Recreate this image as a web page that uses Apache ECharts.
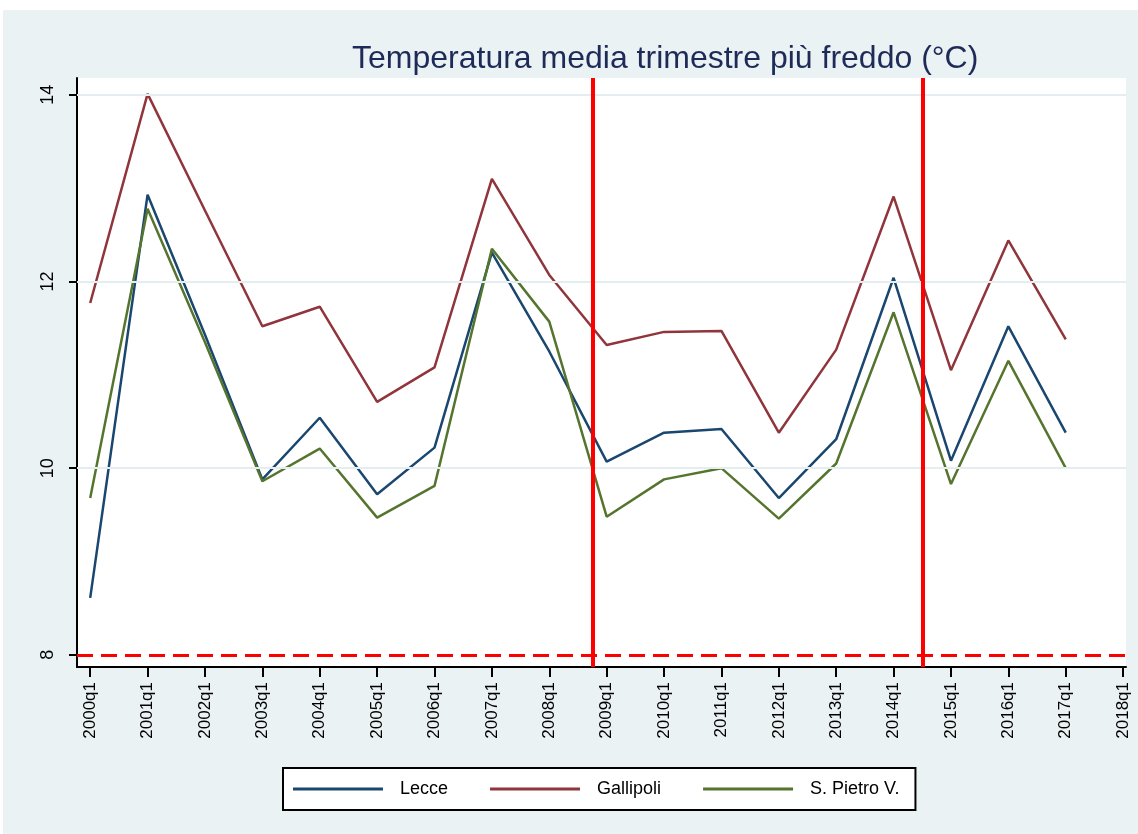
<!DOCTYPE html>
<html>
<head>
<meta charset="utf-8">
<script src="https://cdn.jsdelivr.net/npm/echarts@6/dist/echarts.min.js"></script>
<style>
  html, body { margin: 0; padding: 0; background: #fff; }
  #chart { width: 1138px; height: 834px; }
</style>
</head>
<body>
<div id="chart"></div>
<script>
// anni (valore al primo trimestre), asse x in anni dal 2000
var periods = [0, 1, 2, 3, 4, 5, 6, 7, 8, 9, 10, 11, 12, 13, 14, 15, 16, 17];
var xTicks = [0, 1, 2, 3, 4, 5, 6, 7, 8, 9, 10, 11, 12, 13, 14, 15, 16, 17, 18];
var yTicks = [8, 10, 12, 14];

var lecce = [8.61, 12.93, 11.43, 9.88, 10.54, 9.72, 10.22, 12.31, 11.25, 10.07, 10.38, 10.42, 9.68, 10.31, 12.04, 10.08, 11.52, 10.38];
var gallipoli = [11.77, 14.01, 12.76, 11.52, 11.73, 10.71, 11.08, 13.10, 12.07, 11.32, 11.46, 11.47, 10.38, 11.27, 12.91, 11.05, 12.44, 11.38];
var spietro = [9.68, 12.78, 11.35, 9.86, 10.21, 9.47, 9.81, 12.35, 11.57, 9.48, 9.88, 10.00, 9.46, 10.05, 11.67, 9.83, 11.15, 10.00];

// linee verticali: 2008q4 e 2014q3
var breaks = [8.75, 14.5];
var soglia = 8;
var gridY = [10, 12, 14];

function pairs(vals) {
  var out = [];
  for (var i = 0; i < vals.length; i++) {
    out.push([periods[i], vals[i]]);
  }
  return out;
}

var font = 'Liberation Sans, Arial, sans-serif';
var chart = echarts.init(document.getElementById('chart'));

chart.setOption({
  backgroundColor: '#ffffff',
  animation: false,
  graphic: [{
    type: 'rect',
    z: -100,
    shape: { x: 3, y: 10, width: 1135, height: 824 },
    style: { fill: '#eaf2f3' }
  }],
  title: {
    text: 'Temperatura media trimestre più freddo (°C)',
    left: 347,
    top: 38,
    textStyle: {
      color: '#1e2b58',
      fontFamily: font,
      fontWeight: 'normal',
      fontSize: 32
    }
  },
  grid: {
    left: 77,
    right: 12,
    top: 78,
    bottom: 167,
    show: true,
    backgroundColor: '#ffffff',
    borderWidth: 0
  },
  legend: {
    data: ['Lecce', 'Gallipoli', 'S. Pietro V.'],
    left: 283,
    top: 768,
    padding: [12, 16, 12, 10],
    itemGap: 42,
    itemWidth: 90,
    itemHeight: 3,
    icon: 'rect',
    backgroundColor: '#ffffff',
    borderColor: '#000000',
    borderWidth: 2,
    textStyle: {
      color: '#000',
      fontFamily: font,
      fontSize: 18,
      padding: [0, 0, 0, 12]
    }
  },
  xAxis: {
    type: 'value',
    min: -0.23,
    max: 18.05,
    splitLine: { show: false },
    axisLine: { onZero: false, lineStyle: { color: '#000', width: 2 } },
    axisTick: { customValues: xTicks, length: 10, lineStyle: { color: '#000', width: 2 } },
    axisLabel: {
      customValues: xTicks,
      rotate: 90,
      margin: 15,
      color: '#000',
      fontFamily: font,
      fontSize: 17,
      formatter: function (v) { return (2000 + Math.round(v)) + 'q1'; }
    }
  },
  yAxis: {
    type: 'value',
    min: 7.87,
    max: 14.18,
    splitLine: { show: false },
    axisLine: { show: true, onZero: false, lineStyle: { color: '#000', width: 2 } },
    axisTick: { show: true, customValues: yTicks, length: 8, lineStyle: { color: '#000', width: 2 } },
    axisLabel: {
      customValues: yTicks,
      rotate: 90,
      margin: 20,
      color: '#000',
      fontFamily: font,
      fontSize: 18
    }
  },
  series: [
    {
      name: 'griglia',
      type: 'line',
      data: [],
      z: 1,
      silent: true,
      markLine: {
        symbol: 'none',
        silent: true,
        label: { show: false },
        lineStyle: { color: '#e4edf0', width: 2, type: 'solid' },
        data: gridY.map(function (v) { return { yAxis: v }; })
      }
    },
    {
      name: 'Lecce',
      type: 'line',
      data: pairs(lecce),
      symbol: 'none',
      z: 2,
      lineStyle: { color: '#1a476f', width: 2.5 },
      itemStyle: { color: '#1a476f' }
    },
    {
      name: 'Gallipoli',
      type: 'line',
      data: pairs(gallipoli),
      symbol: 'none',
      z: 2,
      lineStyle: { color: '#90353b', width: 2.5 },
      itemStyle: { color: '#90353b' }
    },
    {
      name: 'S. Pietro V.',
      type: 'line',
      data: pairs(spietro),
      symbol: 'none',
      z: 2,
      lineStyle: { color: '#55752f', width: 2.5 },
      itemStyle: { color: '#55752f' }
    },
    {
      name: 'riferimenti',
      type: 'line',
      data: [],
      z: 5,
      silent: true,
      markLine: {
        symbol: 'none',
        silent: true,
        label: { show: false },
        data: [
          { xAxis: breaks[0], lineStyle: { color: '#ff0000', width: 4, type: 'solid' } },
          { xAxis: breaks[1], lineStyle: { color: '#ff0000', width: 4, type: 'solid' } },
          { yAxis: soglia, lineStyle: { color: '#ff0000', width: 3, type: [16, 8] } }
        ]
      }
    }
  ]
});
</script>
</body>
</html>
